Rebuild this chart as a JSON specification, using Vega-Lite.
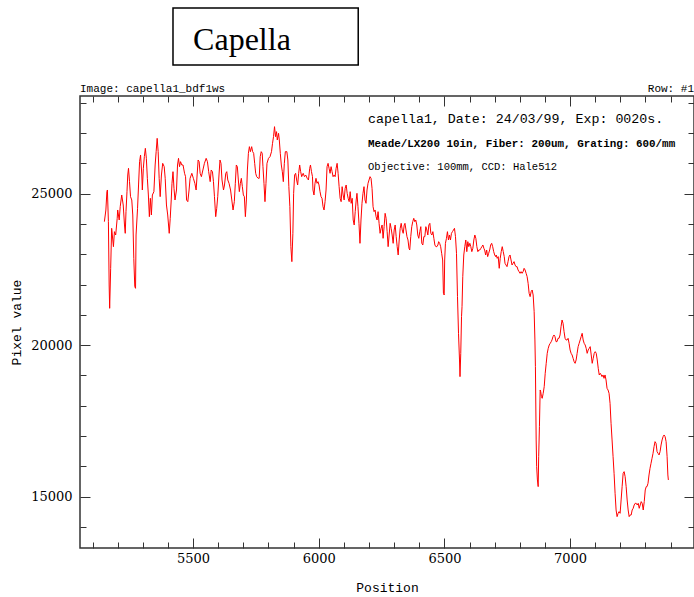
{
  "$schema": "https://vega.github.io/schema/vega-lite/v6.json",
  "width": 614,
  "height": 452,
  "autosize": {"type": "none"},
  "padding": {"left": 80, "top": 96, "right": 0, "bottom": 49},
  "background": "white",
  "config": {
    "view": {"stroke": "#333333", "strokeWidth": 1.5},
    "axis": {
      "grid": false,
      "domain": false,
      "tickColor": "#333333",
      "tickWidth": 1,
      "labelColor": "#000000",
      "titleColor": "#000000",
      "labelFont": "DejaVu Serif",
      "titleFont": "Liberation Mono",
      "titleFontWeight": "normal",
      "labelOverlap": false,
      "labelFlush": false,
      "format": "d"
    }
  },
  "resolve": {"axis": {"x": "independent", "y": "independent"}},
  "datasets": {
    "spectrum": [
      {"position":5147,"value":24077},{"position":5153,"value":24462},{"position":5157,"value":25067},{"position":5159,"value":25122},{"position":5163,"value":24077},{"position":5166,"value":21987},{"position":5168,"value":21217},{"position":5172,"value":22537},{"position":5176,"value":23857},{"position":5183,"value":23252},{"position":5187,"value":23747},{"position":5192,"value":23637},{"position":5198,"value":24187},{"position":5200,"value":24462},{"position":5206,"value":24132},{"position":5210,"value":24572},{"position":5216,"value":24957},{"position":5222,"value":24627},{"position":5227,"value":23967},{"position":5230,"value":23692},{"position":5233,"value":24407},{"position":5237,"value":25067},{"position":5240,"value":25617},{"position":5243,"value":25837},{"position":5247,"value":25397},{"position":5251,"value":24902},{"position":5256,"value":24792},{"position":5260,"value":24297},{"position":5264,"value":22867},{"position":5268,"value":21932},{"position":5271,"value":21877},{"position":5273,"value":23637},{"position":5279,"value":24517},{"position":5283,"value":25287},{"position":5287,"value":26057},{"position":5291,"value":26277},{"position":5296,"value":25617},{"position":5298,"value":25122},{"position":5302,"value":25837},{"position":5306,"value":26222},{"position":5310,"value":26497},{"position":5314,"value":26167},{"position":5318,"value":25507},{"position":5322,"value":24957},{"position":5326,"value":24242},{"position":5330,"value":24847},{"position":5334,"value":24297},{"position":5338,"value":24957},{"position":5344,"value":25067},{"position":5349,"value":25947},{"position":5353,"value":26387},{"position":5357,"value":26827},{"position":5361,"value":26387},{"position":5365,"value":25507},{"position":5369,"value":24902},{"position":5374,"value":25617},{"position":5379,"value":26002},{"position":5385,"value":25892},{"position":5389,"value":25507},{"position":5394,"value":24627},{"position":5399,"value":24297},{"position":5405,"value":23692},{"position":5409,"value":24187},{"position":5413,"value":24792},{"position":5416,"value":25342},{"position":5420,"value":25727},{"position":5424,"value":25177},{"position":5428,"value":24792},{"position":5434,"value":25122},{"position":5438,"value":25947},{"position":5442,"value":26167},{"position":5446,"value":25892},{"position":5450,"value":26057},{"position":5455,"value":25947},{"position":5460,"value":25947},{"position":5466,"value":25672},{"position":5470,"value":25562},{"position":5474,"value":24792},{"position":5479,"value":24737},{"position":5484,"value":25122},{"position":5488,"value":25507},{"position":5495,"value":25672},{"position":5501,"value":25507},{"position":5507,"value":25342},{"position":5512,"value":25122},{"position":5516,"value":25617},{"position":5520,"value":26112},{"position":5524,"value":26057},{"position":5528,"value":25672},{"position":5533,"value":25562},{"position":5539,"value":25782},{"position":5545,"value":26002},{"position":5552,"value":26167},{"position":5557,"value":26057},{"position":5562,"value":25727},
      {"position":5564,"value":25617},{"position":5568,"value":25397},{"position":5572,"value":25782},{"position":5577,"value":25727},{"position":5581,"value":25397},{"position":5585,"value":24902},{"position":5590,"value":24242},{"position":5594,"value":24517},{"position":5598,"value":24902},{"position":5603,"value":25617},{"position":5607,"value":26112},{"position":5611,"value":26002},{"position":5615,"value":25452},{"position":5621,"value":25122},{"position":5625,"value":25287},{"position":5630,"value":25672},{"position":5634,"value":25727},{"position":5638,"value":25452},{"position":5643,"value":25342},{"position":5649,"value":25122},{"position":5654,"value":24792},{"position":5659,"value":24462},{"position":5664,"value":24737},{"position":5668,"value":25342},{"position":5672,"value":25947},{"position":5676,"value":25892},{"position":5680,"value":25452},{"position":5684,"value":25067},{"position":5688,"value":25342},{"position":5692,"value":25507},{"position":5696,"value":25232},{"position":5700,"value":24957},{"position":5704,"value":24902},{"position":5708,"value":24242},{"position":5712,"value":24792},{"position":5716,"value":25782},{"position":5720,"value":26332},{"position":5724,"value":26552},{"position":5728,"value":26387},{"position":5733,"value":26552},{"position":5737,"value":26387},{"position":5741,"value":26332},{"position":5745,"value":26002},{"position":5749,"value":25672},{"position":5753,"value":25562},{"position":5759,"value":25507},{"position":5763,"value":25507},{"position":5767,"value":26222},{"position":5771,"value":26387},{"position":5775,"value":26332},{"position":5778,"value":25892},{"position":5782,"value":25342},{"position":5786,"value":24737},{"position":5790,"value":25342},{"position":5794,"value":26002},{"position":5800,"value":26167},{"position":5806,"value":26222},{"position":5812,"value":26387},{"position":5816,"value":26662},{"position":5820,"value":26882},{"position":5824,"value":27212},{"position":5828,"value":26882},{"position":5832,"value":27047},{"position":5835,"value":26772},{"position":5840,"value":26992},{"position":5843,"value":26772},{"position":5847,"value":26332},{"position":5851,"value":25947},{"position":5855,"value":25727},{"position":5859,"value":25397},{"position":5863,"value":26002},{"position":5867,"value":26387},{"position":5873,"value":26387},{"position":5877,"value":26112},{"position":5881,"value":25232},{"position":5885,"value":24572},{"position":5889,"value":23252},{"position":5893,"value":22757},{"position":5897,"value":23692},{"position":5900,"value":25012},{"position":5904,"value":25617},{"position":5908,"value":25672},{"position":5912,"value":25452},{"position":5916,"value":25287},{"position":5920,"value":25672},{"position":5924,"value":25947},{"position":5928,"value":25727},{"position":5932,"value":25562},{"position":5938,"value":25672},{"position":5943,"value":25562},{"position":5948,"value":25617},{"position":5954,"value":25507},{"position":5959,"value":25452},{"position":5964,"value":25837},
      {"position":5967,"value":25947},{"position":5971,"value":25727},{"position":5975,"value":25562},{"position":5977,"value":25122},{"position":5981,"value":24957},{"position":5985,"value":25342},{"position":5989,"value":25507},{"position":5993,"value":25342},{"position":5997,"value":25397},{"position":6001,"value":25287},{"position":6005,"value":25067},{"position":6009,"value":24902},{"position":6013,"value":24847},{"position":6017,"value":24572},{"position":6021,"value":24462},{"position":6025,"value":24737},{"position":6029,"value":25122},{"position":6033,"value":25892},{"position":6037,"value":26002},{"position":6041,"value":25837},{"position":6045,"value":25672},{"position":6049,"value":25892},{"position":6053,"value":25727},{"position":6057,"value":25562},{"position":6061,"value":25617},{"position":6065,"value":25562},{"position":6069,"value":25837},{"position":6073,"value":26002},{"position":6077,"value":25672},{"position":6081,"value":25232},{"position":6085,"value":24847},{"position":6089,"value":24737},{"position":6093,"value":25232},{"position":6097,"value":24957},{"position":6101,"value":24792},{"position":6105,"value":25177},{"position":6109,"value":25287},{"position":6113,"value":25012},{"position":6117,"value":24847},{"position":6121,"value":24737},{"position":6125,"value":25067},{"position":6129,"value":24682},{"position":6133,"value":24847},{"position":6137,"value":24132},{"position":6141,"value":23967},{"position":6145,"value":24407},{"position":6149,"value":24792},{"position":6152,"value":25012},{"position":6156,"value":24572},{"position":6160,"value":24022},{"position":6164,"value":23362},{"position":6168,"value":24132},{"position":6172,"value":24682},{"position":6176,"value":25012},{"position":6180,"value":25232},{"position":6184,"value":24792},{"position":6188,"value":24682},{"position":6192,"value":25122},{"position":6196,"value":25342},{"position":6200,"value":25452},{"position":6204,"value":25562},{"position":6208,"value":25507},{"position":6212,"value":25177},{"position":6216,"value":24572},{"position":6220,"value":24407},{"position":6224,"value":24462},{"position":6228,"value":24242},{"position":6232,"value":24132},{"position":6236,"value":24407},{"position":6240,"value":24022},{"position":6244,"value":23692},{"position":6248,"value":23857},{"position":6252,"value":23967},{"position":6256,"value":23527},{"position":6260,"value":23912},{"position":6264,"value":24352},{"position":6268,"value":24187},{"position":6272,"value":23747},{"position":6276,"value":23252},{"position":6280,"value":23637},{"position":6284,"value":24022},{"position":6288,"value":23857},{"position":6292,"value":23637},{"position":6296,"value":23362},{"position":6300,"value":23802},{"position":6304,"value":23967},{"position":6308,"value":23582},{"position":6312,"value":23252},{"position":6316,"value":22977},{"position":6320,"value":23472},{"position":6324,"value":23857},{"position":6328,"value":24022},{"position":6332,"value":23802},{"position":6336,"value":23692},{"position":6340,"value":23967},{"position":6343,"value":24022},{"position":6347,"value":23802},{"position":6351,"value":23582},{"position":6355,"value":23472},{"position":6359,"value":23197},
      {"position":6362,"value":23142},{"position":6366,"value":23582},{"position":6370,"value":23912},{"position":6374,"value":24077},{"position":6378,"value":24187},{"position":6382,"value":24077},{"position":6386,"value":24132},{"position":6390,"value":23967},{"position":6394,"value":23637},{"position":6398,"value":23527},{"position":6402,"value":23747},{"position":6406,"value":23912},{"position":6410,"value":23362},{"position":6414,"value":23307},{"position":6418,"value":23582},{"position":6422,"value":23582},{"position":6426,"value":23912},{"position":6430,"value":23802},{"position":6434,"value":23637},{"position":6438,"value":23967},{"position":6442,"value":24022},{"position":6446,"value":23692},{"position":6450,"value":23637},{"position":6454,"value":23747},{"position":6458,"value":23527},{"position":6462,"value":23307},{"position":6466,"value":23252},{"position":6470,"value":23252},{"position":6474,"value":23307},{"position":6477,"value":23417},{"position":6481,"value":23362},{"position":6485,"value":23252},{"position":6489,"value":23032},{"position":6493,"value":22812},{"position":6496,"value":21712},{"position":6499,"value":21657},{"position":6501,"value":22812},{"position":6504,"value":23362},{"position":6508,"value":23527},{"position":6512,"value":23747},{"position":6516,"value":23472},{"position":6520,"value":23637},{"position":6524,"value":23472},{"position":6528,"value":23692},{"position":6532,"value":23747},{"position":6536,"value":23802},{"position":6540,"value":23857},{"position":6544,"value":23582},{"position":6548,"value":23032},{"position":6552,"value":21602},{"position":6556,"value":20392},{"position":6560,"value":19512},{"position":6562,"value":18962},{"position":6565,"value":19732},{"position":6568,"value":20942},{"position":6570,"value":21272},{"position":6573,"value":22262},{"position":6577,"value":22977},{"position":6581,"value":23252},{"position":6585,"value":23472},{"position":6589,"value":23087},{"position":6593,"value":23417},{"position":6597,"value":23252},{"position":6601,"value":23362},{"position":6605,"value":23252},{"position":6609,"value":23087},{"position":6613,"value":23197},{"position":6617,"value":23472},{"position":6621,"value":23637},{"position":6625,"value":23527},{"position":6629,"value":23252},{"position":6633,"value":23087},{"position":6637,"value":23142},{"position":6641,"value":23142},{"position":6645,"value":23197},{"position":6649,"value":23252},{"position":6653,"value":23307},{"position":6657,"value":23197},{"position":6660,"value":23142},{"position":6664,"value":22977},{"position":6668,"value":23142},{"position":6672,"value":22922},{"position":6676,"value":23032},{"position":6680,"value":23142},{"position":6684,"value":23307},{"position":6688,"value":23362},{"position":6692,"value":23252},{"position":6696,"value":23087},{"position":6700,"value":22977},{"position":6704,"value":22922},
      {"position":6706,"value":22977},{"position":6710,"value":22867},{"position":6714,"value":22922},{"position":6718,"value":22537},{"position":6722,"value":22867},{"position":6726,"value":23087},{"position":6730,"value":23252},{"position":6734,"value":23087},{"position":6738,"value":22922},{"position":6741,"value":22702},{"position":6745,"value":22647},{"position":6749,"value":22592},{"position":6753,"value":22757},{"position":6757,"value":22922},{"position":6761,"value":22977},{"position":6765,"value":22812},{"position":6769,"value":22647},{"position":6773,"value":22702},{"position":6777,"value":22757},{"position":6781,"value":22647},{"position":6785,"value":22592},{"position":6789,"value":22592},{"position":6793,"value":22482},{"position":6797,"value":22427},{"position":6801,"value":22372},{"position":6805,"value":22427},{"position":6809,"value":22372},{"position":6813,"value":22427},{"position":6817,"value":22537},{"position":6821,"value":22482},{"position":6825,"value":22372},{"position":6829,"value":22262},{"position":6833,"value":22042},{"position":6837,"value":21712},{"position":6841,"value":21602},{"position":6845,"value":21767},{"position":6849,"value":21822},{"position":6853,"value":21657},{"position":6857,"value":21107},{"position":6860,"value":20172},{"position":6862,"value":19292},{"position":6865,"value":16872},{"position":6867,"value":15992},{"position":6870,"value":15552},{"position":6873,"value":15332},{"position":6875,"value":16322},{"position":6878,"value":17312},{"position":6881,"value":18522},{"position":6883,"value":18467},{"position":6886,"value":18302},{"position":6889,"value":18247},{"position":6893,"value":18412},{"position":6897,"value":18632},{"position":6901,"value":19072},{"position":6905,"value":19402},{"position":6909,"value":19732},{"position":6913,"value":19897},{"position":6917,"value":20007},{"position":6921,"value":20062},{"position":6925,"value":20117},{"position":6928,"value":20172},{"position":6932,"value":20282},{"position":6936,"value":20337},{"position":6940,"value":20282},{"position":6944,"value":20117},{"position":6948,"value":20117},{"position":6952,"value":20227},{"position":6956,"value":20227},{"position":6960,"value":20337},{"position":6964,"value":20612},{"position":6968,"value":20832},{"position":6972,"value":20722},{"position":6976,"value":20447},{"position":6980,"value":20227},{"position":6984,"value":20172},{"position":6988,"value":20172},{"position":6992,"value":20227},{"position":6996,"value":20062},{"position":7000,"value":19842},{"position":7004,"value":19732},{"position":7008,"value":19677},{"position":7012,"value":19567},{"position":7016,"value":19457},{"position":7020,"value":19402},{"position":7024,"value":19512},{"position":7028,"value":19732},{"position":7032,"value":19952},{"position":7036,"value":20062},{"position":7040,"value":20172},{"position":7044,"value":20282},{"position":7048,"value":20392},{"position":7052,"value":20172},{"position":7056,"value":20062},{"position":7060,"value":20007},{"position":7064,"value":19897},{"position":7068,"value":19732},{"position":7072,"value":19842},{"position":7076,"value":19897},{"position":7080,"value":19952},{"position":7084,"value":19677},{"position":7088,"value":19402},{"position":7092,"value":19567},{"position":7096,"value":19732},{"position":7100,"value":19787},{"position":7104,"value":19732},{"position":7108,"value":19512},{"position":7112,"value":19237},{"position":7116,"value":19017},
      {"position":7120,"value":19072},{"position":7124,"value":19017},{"position":7127,"value":18962},{"position":7131,"value":19017},{"position":7135,"value":18907},{"position":7139,"value":19017},{"position":7143,"value":18852},{"position":7147,"value":18577},{"position":7151,"value":18522},{"position":7155,"value":18412},{"position":7159,"value":18082},{"position":7163,"value":17422},{"position":7167,"value":16872},{"position":7171,"value":16322},{"position":7175,"value":15772},{"position":7179,"value":15112},{"position":7183,"value":14562},{"position":7187,"value":14342},{"position":7191,"value":14452},{"position":7195,"value":14507},{"position":7199,"value":14452},{"position":7203,"value":14892},{"position":7207,"value":15332},{"position":7211,"value":15772},{"position":7215,"value":15827},{"position":7219,"value":15662},{"position":7223,"value":15332},{"position":7227,"value":14892},{"position":7231,"value":14562},{"position":7235,"value":14342},{"position":7239,"value":14397},{"position":7243,"value":14397},{"position":7247,"value":14562},{"position":7251,"value":14617},{"position":7255,"value":14727},{"position":7259,"value":14782},{"position":7263,"value":14782},{"position":7267,"value":14727},{"position":7271,"value":14782},{"position":7275,"value":14617},{"position":7279,"value":14727},{"position":7283,"value":14837},{"position":7287,"value":14782},{"position":7291,"value":14562},{"position":7295,"value":14837},{"position":7299,"value":15222},{"position":7303,"value":15332},{"position":7306,"value":15332},{"position":7310,"value":15442},{"position":7314,"value":15717},{"position":7318,"value":15937},{"position":7322,"value":16102},{"position":7326,"value":16267},{"position":7330,"value":16432},{"position":7334,"value":16652},{"position":7338,"value":16817},{"position":7342,"value":16762},{"position":7346,"value":16487},{"position":7350,"value":16432},{"position":7354,"value":16377},{"position":7358,"value":16487},{"position":7362,"value":16707},{"position":7366,"value":16872},{"position":7370,"value":16982},{"position":7374,"value":17037},{"position":7378,"value":16982},{"position":7382,"value":16817},{"position":7386,"value":16322},{"position":7389,"value":15717},{"position":7391,"value":15552}
    ],
    "notes": [{"note": "annotation"}]
  },
  "layer": [
    {
      "data": {"name": "spectrum"},
      "mark": {"type": "line", "color": "#ff0000", "strokeWidth": 1},
      "encoding": {
        "x": {"field": "position", "type": "quantitative",
              "scale": {"domain": [5050, 7493], "nice": false, "zero": false},
              "axis": {"orient": "bottom", "values": [5500, 6000, 6500, 7000], "tickSize": -10,
                       "labelFontSize": 13, "labelPadding": 14, "title": "Position",
                       "titleFontSize": 13, "titlePadding": 16}},
        "y": {"field": "value", "type": "quantitative",
              "scale": {"domain": [13307, 28224], "nice": false, "zero": false},
              "axis": {"orient": "left", "values": [15000, 20000, 25000], "tickSize": -10,
                       "labelFontSize": 13, "labelPadding": 18, "title": "Pixel value",
                       "titleFontSize": 13, "titlePadding": 7}}
      }
    },
    {
      "data": {"name": "spectrum"},
      "mark": {"type": "line", "opacity": 0},
      "encoding": {
        "x": {"field": "position", "type": "quantitative",
              "scale": {"domain": [5050, 7493], "nice": false, "zero": false},
              "axis": {"orient": "bottom", "values": [5100,5200,5300,5400,5600,5700,5800,5900,6100,6200,6300,6400,6600,6700,6800,6900,7100,7200,7300,7400],
                       "tickSize": -6, "labels": false, "title": null}},
        "y": {"field": "value", "type": "quantitative",
              "scale": {"domain": [13307, 28224], "nice": false, "zero": false},
              "axis": {"orient": "left", "values": [14000,16000,17000,18000,19000,21000,22000,23000,24000,26000,27000,28000],
                       "tickSize": -6, "labels": false, "title": null}}
      }
    },
    {
      "data": {"name": "spectrum"},
      "mark": {"type": "line", "opacity": 0},
      "encoding": {
        "x": {"field": "position", "type": "quantitative",
              "scale": {"domain": [5050, 7493], "nice": false, "zero": false},
              "axis": {"orient": "top", "values": [5500, 6000, 6500, 7000], "tickSize": -10, "labels": false, "title": null}},
        "y": {"field": "value", "type": "quantitative",
              "scale": {"domain": [13307, 28224], "nice": false, "zero": false},
              "axis": {"orient": "right", "values": [15000, 20000, 25000], "tickSize": -10, "labels": false, "title": null}}
      }
    },
    {
      "data": {"name": "spectrum"},
      "mark": {"type": "line", "opacity": 0},
      "encoding": {
        "x": {"field": "position", "type": "quantitative",
              "scale": {"domain": [5050, 7493], "nice": false, "zero": false},
              "axis": {"orient": "top", "values": [5100,5200,5300,5400,5600,5700,5800,5900,6100,6200,6300,6400,6600,6700,6800,6900,7100,7200,7300,7400],
                       "tickSize": -6, "labels": false, "title": null}},
        "y": {"field": "value", "type": "quantitative",
              "scale": {"domain": [13307, 28224], "nice": false, "zero": false},
              "axis": {"orient": "right", "values": [14000,16000,17000,18000,19000,21000,22000,23000,24000,26000,27000,28000],
                       "tickSize": -6, "labels": false, "title": null}}
      }
    },
    {
      "data": {"name": "notes"},
      "mark": {"type": "rect", "fill": "transparent", "stroke": "#000000", "strokeWidth": 1.5},
      "encoding": {
        "x": {"datum": 5420, "type": "quantitative", "axis": null, "scale": {"domain": [5050, 7493], "nice": false, "zero": false}},
        "x2": {"datum": 6157},
        "y": {"datum": 31128, "type": "quantitative", "axis": null, "scale": {"domain": [13307, 28224], "nice": false, "zero": false}},
        "y2": {"datum": 29247}
      }
    },
    {
      "data": {"name": "notes"},
      "mark": {"type": "text", "align": "left", "baseline": "alphabetic", "font": "Liberation Serif", "fontSize": 32, "color": "#000000"},
      "encoding": {
        "x": {"datum": 5500, "type": "quantitative", "axis": null, "scale": {"domain": [5050, 7493], "nice": false, "zero": false}},
        "y": {"datum": 29742, "type": "quantitative", "axis": null, "scale": {"domain": [13307, 28224], "nice": false, "zero": false}},
        "text": {"value": "Capella"}
      }
    },
    {
      "data": {"name": "notes"},
      "mark": {"type": "text", "align": "left", "baseline": "alphabetic", "font": "Liberation Mono", "fontSize": 11, "color": "#000000"},
      "encoding": {
        "x": {"datum": 5050, "type": "quantitative", "axis": null, "scale": {"domain": [5050, 7493], "nice": false, "zero": false}},
        "y": {"datum": 28356, "type": "quantitative", "axis": null, "scale": {"domain": [13307, 28224], "nice": false, "zero": false}},
        "text": {"value": "Image: capella1_bdf1ws"}
      }
    },
    {
      "data": {"name": "notes"},
      "mark": {"type": "text", "align": "right", "baseline": "alphabetic", "font": "Liberation Mono", "fontSize": 11, "color": "#000000"},
      "encoding": {
        "x": {"datum": 7493, "type": "quantitative", "axis": null, "scale": {"domain": [5050, 7493], "nice": false, "zero": false}},
        "y": {"datum": 28356, "type": "quantitative", "axis": null, "scale": {"domain": [13307, 28224], "nice": false, "zero": false}},
        "text": {"value": "Row: #1"}
      }
    },
    {
      "data": {"name": "notes"},
      "mark": {"type": "text", "align": "left", "baseline": "alphabetic", "font": "Liberation Mono", "fontSize": 13.3, "color": "#000000"},
      "encoding": {
        "x": {"datum": 6196, "type": "quantitative", "axis": null, "scale": {"domain": [5050, 7493], "nice": false, "zero": false}},
        "y": {"datum": 27333, "type": "quantitative", "axis": null, "scale": {"domain": [13307, 28224], "nice": false, "zero": false}},
        "text": {"value": "capella1, Date: 24/03/99, Exp: 0020s."}
      }
    },
    {
      "data": {"name": "notes"},
      "mark": {"type": "text", "align": "left", "baseline": "alphabetic", "font": "Liberation Mono", "fontSize": 10.9, "fontWeight": "bold", "color": "#000000"},
      "encoding": {
        "x": {"datum": 6196, "type": "quantitative", "axis": null, "scale": {"domain": [5050, 7493], "nice": false, "zero": false}},
        "y": {"datum": 26541, "type": "quantitative", "axis": null, "scale": {"domain": [13307, 28224], "nice": false, "zero": false}},
        "text": {"value": "Meade/LX200 10in, Fiber: 200um, Grating: 600/mm"}
      }
    },
    {
      "data": {"name": "notes"},
      "mark": {"type": "text", "align": "left", "baseline": "alphabetic", "font": "Liberation Mono", "fontSize": 10.5, "color": "#000000"},
      "encoding": {
        "x": {"datum": 6196, "type": "quantitative", "axis": null, "scale": {"domain": [5050, 7493], "nice": false, "zero": false}},
        "y": {"datum": 25782, "type": "quantitative", "axis": null, "scale": {"domain": [13307, 28224], "nice": false, "zero": false}},
        "text": {"value": "Objective: 100mm, CCD: Hale512"}
      }
    }
  ]
}
